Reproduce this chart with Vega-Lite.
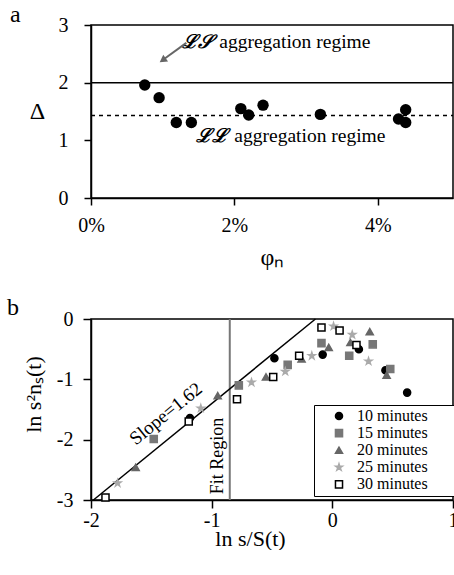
{
  "$schema": "https://vega.github.io/schema/vega-lite/v6.json",
  "padding": {"left": 6, "top": 2, "right": 0, "bottom": 0},
  "background": "white",
  "bounds": "flush",
  "spacing": 121,
  "resolve": {"scale": {"fill": "independent", "stroke": "independent", "shape": "independent"}, "legend": {"fill": "independent", "stroke": "independent", "shape": "independent"}},
  "config": {
    "font": "Liberation Serif",
    "view": {"stroke": "black", "strokeWidth": 1.5},
    "axis": {"domainColor": "black", "domainWidth": 1.5, "tickColor": "black", "tickWidth": 1.5, "labelColor": "black", "titleColor": "black", "labelFont": "Liberation Serif", "titleFont": "Liberation Serif", "grid": false, "titleFontWeight": "normal", "labelFlush": false},
    "title": {"font": "Liberation Serif", "fontWeight": "normal", "anchor": "start", "frame": "group", "fontSize": 24, "color": "black", "baseline": "alphabetic"},
    "text": {"font": "Liberation Serif", "color": "black"}
  },
  "vconcat": [
    {
      "width": 362,
      "height": 173,
      "title": {"text": "a", "dx": -81, "offset": 5, "dy": 17},
      "encoding": {
        "x": {"field": "x", "type": "quantitative", "scale": {"domain": [0, 5.05], "nice": false, "zero": false},
          "axis": {"values": [0, 2, 4], "labelExpr": "datum.value + '%'", "labelFont": "Liberation Serif", "titleFont": "Liberation Serif", "labelFlush": false, "labelFontSize": 20, "tickSize": 7, "labelPadding": 10, "title": "φₙ", "titleFontSize": 24, "titlePadding": 10}},
        "y": {"field": "y", "type": "quantitative", "scale": {"domain": [0, 3], "nice": false},
          "axis": {"values": [0, 1, 2, 3], "labelFont": "Liberation Serif", "titleFont": "Liberation Serif", "labelFlush": false, "labelFontSize": 20, "tickSize": 7, "labelPadding": 16, "title": "Δ", "titleAngle": 0, "titleFontSize": 24, "titleX": -54, "titleY": 86, "titleAlign": "center", "titleBaseline": "middle"}}
      },
      "layer": [
        {
          "data": {"values": [{"x": 0, "x2": 5.05, "y": 2}]},
          "mark": {"type": "rule", "color": "black", "strokeWidth": 1.5},
          "encoding": {"x2": {"field": "x2"}}
        },
        {
          "data": {"values": [{"x": 0, "x2": 5.05, "y": 1.43}]},
          "mark": {"type": "rule", "color": "black", "strokeWidth": 1.5, "strokeDash": [4, 4]},
          "encoding": {"x2": {"field": "x2"}}
        },
        {
          "data": {"values": [
            {"x": 0.75, "y": 1.96}, {"x": 0.95, "y": 1.74}, {"x": 1.19, "y": 1.31}, {"x": 1.40, "y": 1.31},
            {"x": 2.09, "y": 1.55}, {"x": 2.20, "y": 1.44}, {"x": 2.40, "y": 1.61}, {"x": 3.20, "y": 1.45},
            {"x": 4.29, "y": 1.37}, {"x": 4.39, "y": 1.53}, {"x": 4.39, "y": 1.31}
          ]},
          "mark": {"type": "circle", "color": "black", "opacity": 1, "size": 130}
        },
        {
          "data": {"values": [
            {"x": 1.70, "y": 2.71, "label": "ℒ𝒮"},
            {"x": 1.91, "y": 1.07, "label": "ℒℒ"}
          ]},
          "mark": {"type": "text", "fontSize": 19, "fontWeight": "bold", "fontStyle": "italic", "align": "right", "baseline": "middle"},
          "encoding": {"text": {"field": "label"}}
        },
        {
          "data": {"values": [
            {"x": 1.79, "y": 2.71, "label": "aggregation regime"},
            {"x": 2.0, "y": 1.07, "label": "aggregation regime"}
          ]},
          "mark": {"type": "text", "fontSize": 19.5, "align": "left", "baseline": "middle"},
          "encoding": {"text": {"field": "label"}}
        },
        {
          "data": {"values": [{"x": 1.33, "y": 2.69, "x2": 1.02, "y2": 2.41}]},
          "mark": {"type": "rule", "color": "#666", "strokeWidth": 2},
          "encoding": {"x2": {"field": "x2"}, "y2": {"field": "y2"}}
        },
        {
          "data": {"values": [{"x": 1.0, "y": 2.39}]},
          "mark": {"type": "point", "shape": "triangle-up", "filled": true, "color": "#666", "opacity": 1, "size": 70, "angle": 235}
        }
      ]
    },
    {
      "width": 362,
      "height": 181,
      "title": {"text": "b", "dx": -84, "offset": 8, "dy": 19},
      "encoding": {
        "x": {"field": "x", "type": "quantitative", "scale": {"domain": [-2, 1], "nice": false, "zero": false},
          "axis": {"values": [-2, -1, 0, 1], "labelExpr": "datum.value < 0 ? '-' + abs(datum.value) : '' + datum.value", "labelFont": "Liberation Serif", "titleFont": "Liberation Serif", "labelFlush": false, "labelFontSize": 20, "tickSize": 8, "labelPadding": 2, "title": "ln s/S(t)", "titleFontSize": 22, "titleX": 159, "titleY": 38, "titleAlign": "center", "titleBaseline": "middle"}},
        "y": {"field": "y", "type": "quantitative", "scale": {"domain": [-3, 0], "nice": false, "zero": false},
          "axis": {"values": [-3, -2, -1, 0], "labelExpr": "datum.value < 0 ? '-' + abs(datum.value) : '' + datum.value", "labelFont": "Liberation Serif", "titleFont": "Liberation Serif", "labelFlush": false, "labelFontSize": 20, "tickSize": 8, "labelPadding": 10, "title": "ln s²nₛ(t)", "titleFontSize": 22, "titleX": -58, "titleY": 75, "titleAlign": "center", "titleBaseline": "middle"}}
      },
      "layer": [
        {
          "data": {"values": [{"x": -0.85, "y": -3, "y2": 0}]},
          "mark": {"type": "rule", "color": "#777", "strokeWidth": 2},
          "encoding": {"y2": {"field": "y2"}}
        },
        {
          "data": {"values": [{"x": -1.98, "y": -3, "x2": -0.14, "y2": 0}]},
          "mark": {"type": "rule", "color": "black", "strokeWidth": 1.5},
          "encoding": {"x2": {"field": "x2"}, "y2": {"field": "y2"}}
        },
        {
          "data": {"values": [{"x": -1.38, "y": -1.57, "label": "Slope=1.62"}]},
          "mark": {"type": "text", "fontSize": 19, "angle": -39, "align": "center", "baseline": "middle"},
          "encoding": {"text": {"field": "label"}}
        },
        {
          "data": {"values": [{"x": -0.95, "y": -2.27, "label": "Fit Region"}]},
          "mark": {"type": "text", "fontSize": 18, "angle": -90, "align": "center", "baseline": "middle"},
          "encoding": {"text": {"field": "label"}}
        },
        {
          "data": {"values": [
            {"series": "10 minutes", "x": -1.18, "y": -1.64},
            {"series": "10 minutes", "x": -0.48, "y": -0.65},
            {"series": "10 minutes", "x": -0.08, "y": -0.59},
            {"series": "10 minutes", "x": 0.22, "y": -0.50},
            {"series": "10 minutes", "x": 0.44, "y": -0.85},
            {"series": "10 minutes", "x": 0.62, "y": -1.22},
            {"series": "15 minutes", "x": -1.48, "y": -1.99},
            {"series": "15 minutes", "x": -0.775, "y": -1.10},
            {"series": "15 minutes", "x": -0.37, "y": -0.76},
            {"series": "15 minutes", "x": -0.09, "y": -0.40},
            {"series": "15 minutes", "x": 0.14, "y": -0.61},
            {"series": "15 minutes", "x": 0.335, "y": -0.42},
            {"series": "15 minutes", "x": 0.48, "y": -0.83},
            {"series": "20 minutes", "x": -1.63, "y": -2.46},
            {"series": "20 minutes", "x": -0.95, "y": -1.27},
            {"series": "20 minutes", "x": -0.55, "y": -0.96},
            {"series": "20 minutes", "x": -0.255, "y": -0.66},
            {"series": "20 minutes", "x": -0.03, "y": -0.47},
            {"series": "20 minutes", "x": 0.15, "y": -0.39},
            {"series": "20 minutes", "x": 0.31, "y": -0.21},
            {"series": "20 minutes", "x": 0.45, "y": -0.93},
            {"series": "25 minutes", "x": -1.78, "y": -2.72},
            {"series": "25 minutes", "x": -1.09, "y": -1.48},
            {"series": "25 minutes", "x": -0.67, "y": -1.05},
            {"series": "25 minutes", "x": -0.39, "y": -0.87},
            {"series": "25 minutes", "x": -0.17, "y": -0.61},
            {"series": "25 minutes", "x": 0.01, "y": -0.12},
            {"series": "25 minutes", "x": 0.165, "y": -0.26},
            {"series": "25 minutes", "x": 0.30, "y": -0.70},
            {"series": "30 minutes", "x": -1.88, "y": -2.96},
            {"series": "30 minutes", "x": -1.19, "y": -1.70},
            {"series": "30 minutes", "x": -0.79, "y": -1.33},
            {"series": "30 minutes", "x": -0.49, "y": -0.96},
            {"series": "30 minutes", "x": -0.275, "y": -0.61},
            {"series": "30 minutes", "x": -0.09, "y": -0.14},
            {"series": "30 minutes", "x": 0.06, "y": -0.19},
            {"series": "30 minutes", "x": 0.20, "y": -0.43}
          ]},
          "mark": {"type": "point", "opacity": 1, "strokeWidth": 1.5, "size": 50},
          "encoding": {
            "fill": {"field": "series", "type": "nominal",
              "scale": {"domain": ["10 minutes", "15 minutes", "20 minutes", "25 minutes", "30 minutes"], "range": ["#000000", "#777777", "#666666", "#aaaaaa", "#ffffff"]},
              "legend": {"orient": "none", "legendX": 223, "legendY": 86, "title": null, "strokeColor": "black", "fillColor": "white", "padding": 3, "labelFont": "Liberation Serif", "labelFontSize": 16, "labelColor": "black", "symbolSize": 50, "symbolStrokeWidth": 1.5, "symbolOffset": 14, "labelOffset": 10, "rowPadding": 1.1, "labelExpr": "datum.label + '\u2800\u2800\u2800'"}},
            "stroke": {"field": "series", "type": "nominal",
              "scale": {"domain": ["10 minutes", "15 minutes", "20 minutes", "25 minutes", "30 minutes"], "range": ["#000000", "#777777", "#666666", "#aaaaaa", "#000000"]}},
            "shape": {"field": "series", "type": "nominal",
              "scale": {"domain": ["10 minutes", "15 minutes", "20 minutes", "25 minutes", "30 minutes"], "range": ["circle", "square", "triangle-up", "M0,-1L0.2245,-0.309L0.951,-0.309L0.363,0.118L0.588,0.809L0,0.382L-0.588,0.809L-0.363,0.118L-0.951,-0.309L-0.2245,-0.309Z", "square"]}}
          }
        }
      ]
    }
  ]
}
